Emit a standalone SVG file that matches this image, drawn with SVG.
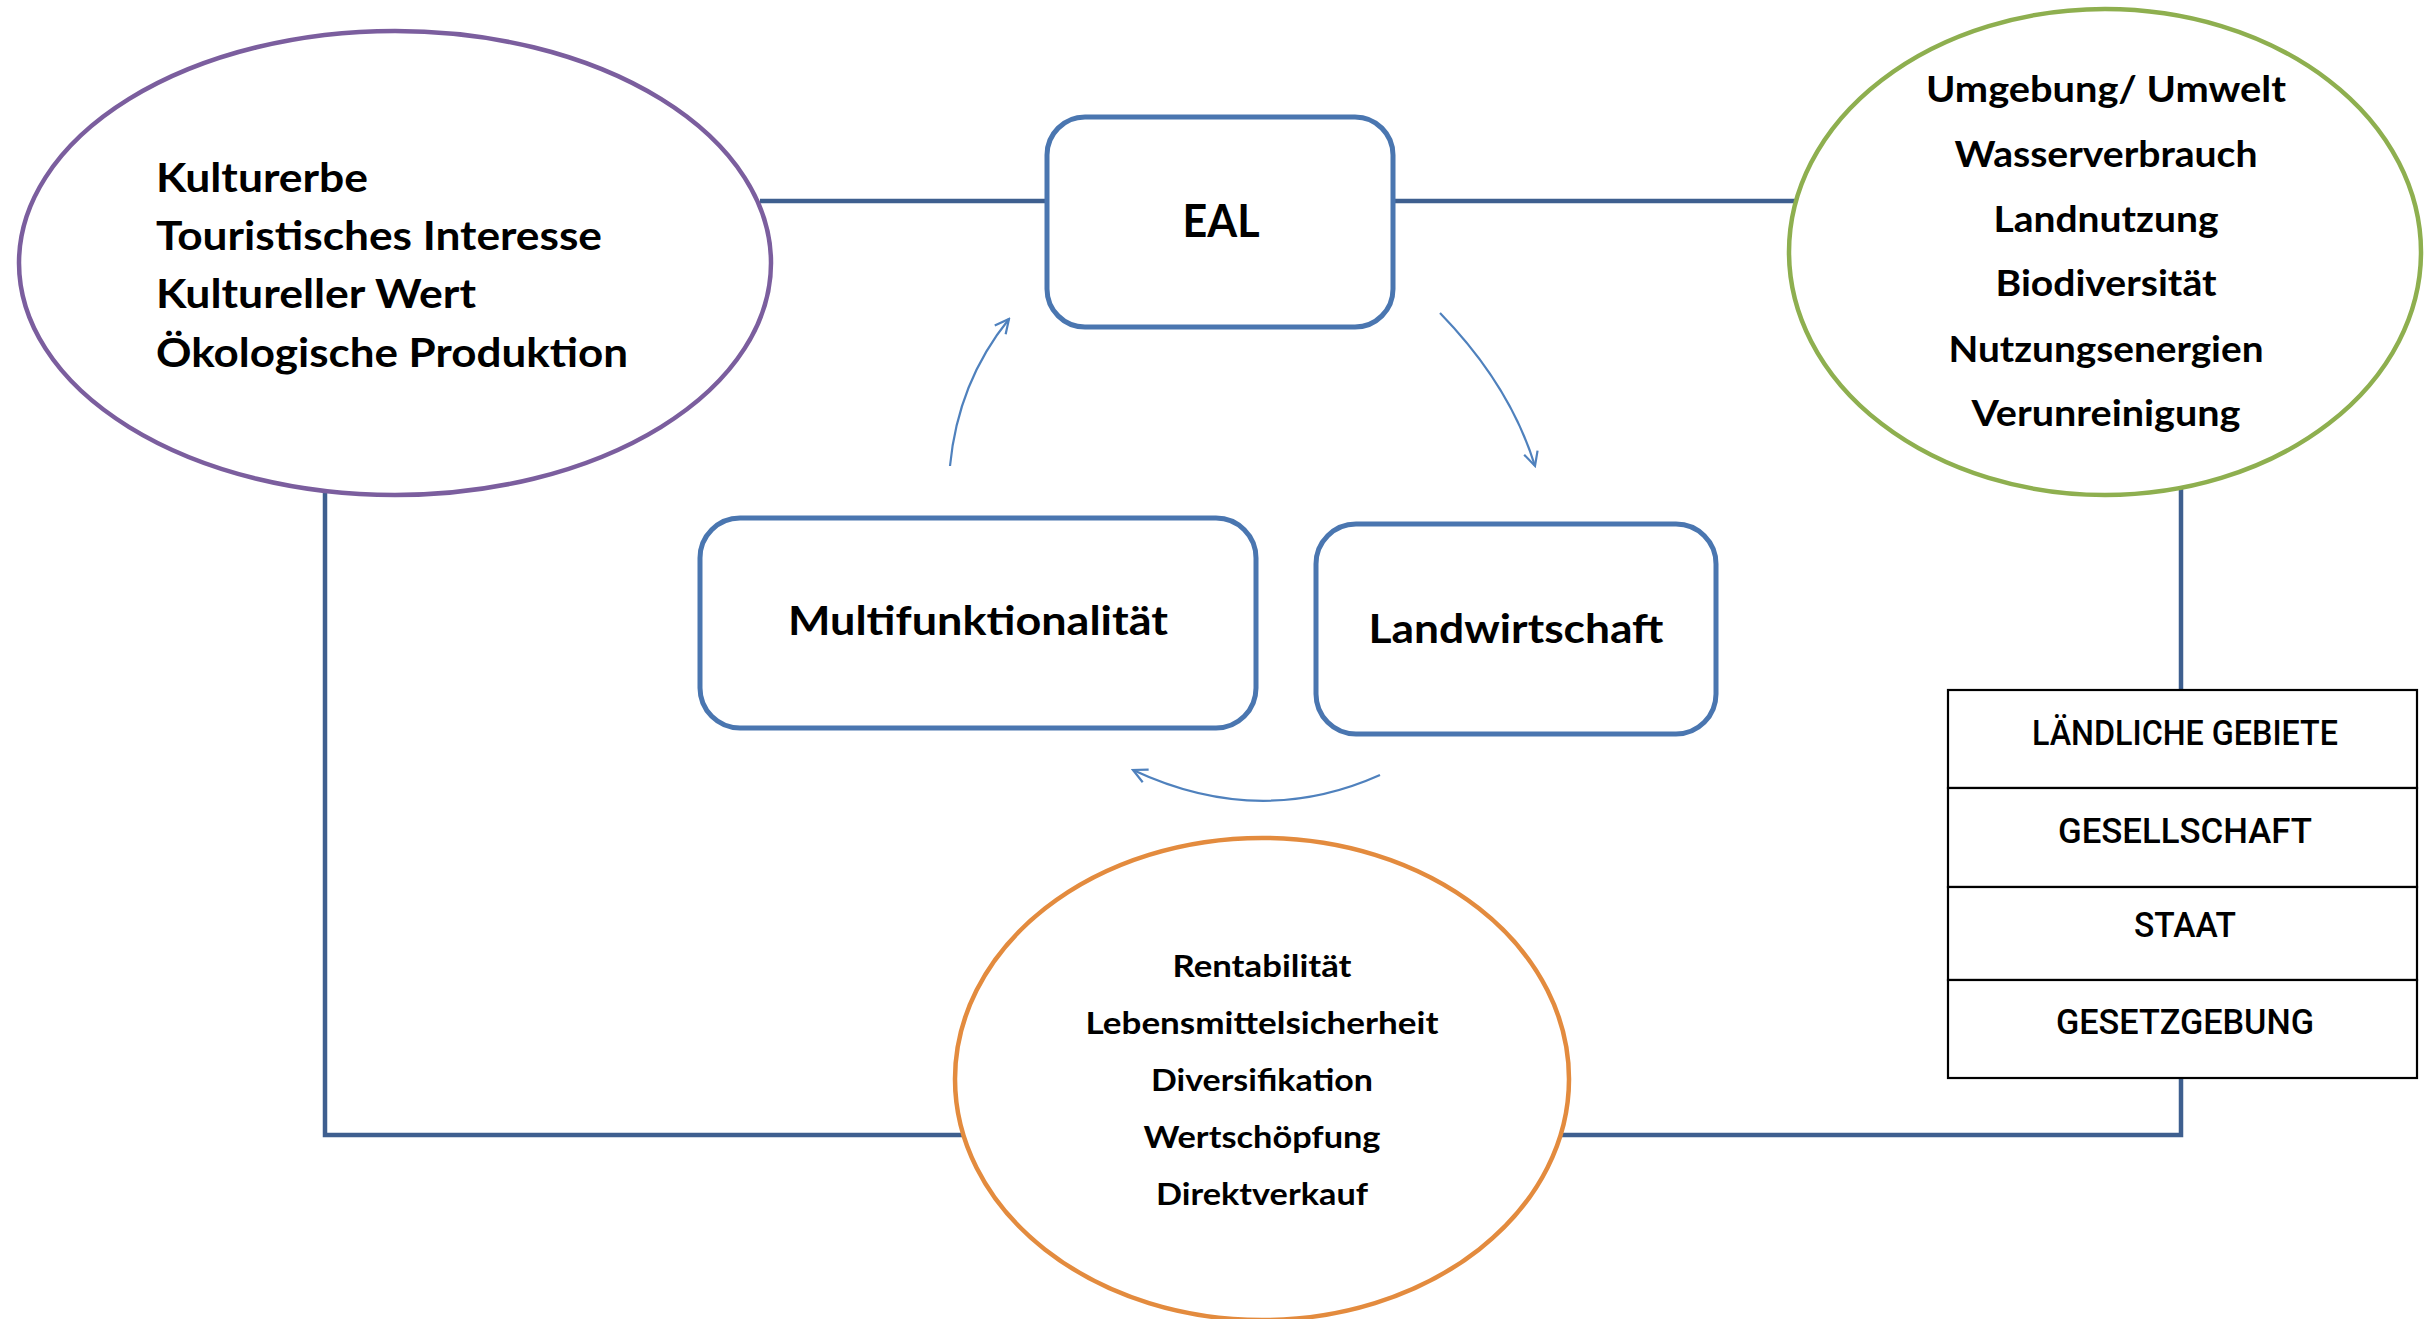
<svg xmlns="http://www.w3.org/2000/svg" width="2429" height="1319" viewBox="0 0 2429 1319">
<style>
.conn{fill:none;stroke:#3E5F8F;stroke-width:4.5}
.flow{fill:none;stroke:#4F81BD;stroke-width:2.2}
.box{fill:#fff;stroke:#4A76B0;stroke-width:5}
.t{font-family:Lato,"Open Sans","Liberation Sans",sans-serif;font-weight:700;fill:#000}
.c{text-anchor:middle}
.tab{fill:#fff;stroke:#000;stroke-width:2.2}
.tt{font-family:Roboto,"DejaVu Sans","Liberation Sans",sans-serif;font-weight:500;font-size:35px;text-anchor:middle;fill:#000}
</style>
<defs>
<marker id="ah" viewBox="0 0 18 18" refX="16" refY="9" markerWidth="18" markerHeight="18" markerUnits="userSpaceOnUse" orient="auto">
<path d="M2,2 L16,9 L2,16" fill="none" stroke="#4F81BD" stroke-width="2.2"/>
</marker>
</defs>
<rect width="2429" height="1319" fill="#fff"/>
<g id="connectors">
<line class="conn" x1="760" y1="201" x2="1050" y2="201"/>
<line class="conn" x1="1390" y1="201" x2="1800" y2="201"/>
<polyline class="conn" points="325,480 325,1135 980,1135"/>
<line class="conn" x1="2181" y1="480" x2="2181" y2="692"/>
<polyline class="conn" points="2181,1076 2181,1135 1550,1135"/>
<path class="flow" d="M950,466 Q958,382 1009,319" marker-end="url(#ah)"/>
<path class="flow" d="M1440,313 Q1510,385 1535,466" marker-end="url(#ah)"/>
<path class="flow" d="M1380,775 Q1259,829 1133,770" marker-end="url(#ah)"/>
</g>
<g id="kultur">
<ellipse cx="395" cy="263" rx="376" ry="232" fill="#fff" stroke="#7B5E9E" stroke-width="4.5"/>
<text class="t" font-size="41" x="156" y="192" textLength="212" lengthAdjust="spacingAndGlyphs">Kulturerbe</text>
<text class="t" font-size="41" x="156" y="250" textLength="446" lengthAdjust="spacingAndGlyphs">Touristisches Interesse</text>
<text class="t" font-size="41" x="156" y="308" textLength="320" lengthAdjust="spacingAndGlyphs">Kultureller Wert</text>
<text class="t" font-size="41" x="156" y="367" textLength="472" lengthAdjust="spacingAndGlyphs">Ökologische Produktion</text>
</g>
<g id="eal">
<rect class="box" x="1047" y="117" width="346" height="210" rx="38"/>
<text class="t c" font-size="46" x="1221" y="237" textLength="77" lengthAdjust="spacingAndGlyphs">EAL</text>
</g>
<g id="umwelt">
<ellipse cx="2105" cy="252" rx="316" ry="243" fill="#fff" stroke="#8EAF4F" stroke-width="4.5"/>
<text class="t c" font-size="36" x="2106" y="102" textLength="360" lengthAdjust="spacingAndGlyphs">Umgebung/ Umwelt</text>
<text class="t c" font-size="36" x="2106" y="167" textLength="303" lengthAdjust="spacingAndGlyphs">Wasserverbrauch</text>
<text class="t c" font-size="36" x="2106" y="232" textLength="225" lengthAdjust="spacingAndGlyphs">Landnutzung</text>
<text class="t c" font-size="36" x="2106" y="296" textLength="221" lengthAdjust="spacingAndGlyphs">Biodiversität</text>
<text class="t c" font-size="36" x="2106" y="362" textLength="315" lengthAdjust="spacingAndGlyphs">Nutzungsenergien</text>
<text class="t c" font-size="36" x="2106" y="426" textLength="269" lengthAdjust="spacingAndGlyphs">Verunreinigung</text>
</g>
<g id="multi">
<rect class="box" x="700" y="518" width="556" height="210" rx="40"/>
<text class="t c" font-size="40" x="978" y="635" textLength="380" lengthAdjust="spacingAndGlyphs">Multifunktionalität</text>
</g>
<g id="landwirtschaft">
<rect class="box" x="1316" y="524" width="400" height="210" rx="40"/>
<text class="t c" font-size="40" x="1516" y="643" textLength="295" lengthAdjust="spacingAndGlyphs">Landwirtschaft</text>
</g>
<g id="wirtschaft">
<ellipse cx="1262" cy="1079" rx="307" ry="241" fill="#fff" stroke="#E38B3E" stroke-width="4.5"/>
<text class="t c" font-size="31" x="1262" y="977" textLength="179" lengthAdjust="spacingAndGlyphs">Rentabilität</text>
<text class="t c" font-size="31" x="1262" y="1034" textLength="353" lengthAdjust="spacingAndGlyphs">Lebensmittelsicherheit</text>
<text class="t c" font-size="31" x="1262" y="1091" textLength="222" lengthAdjust="spacingAndGlyphs">Diversifikation</text>
<text class="t c" font-size="31" x="1262" y="1148" textLength="237" lengthAdjust="spacingAndGlyphs">Wertschöpfung</text>
<text class="t c" font-size="31" x="1262" y="1205" textLength="212" lengthAdjust="spacingAndGlyphs">Direktverkauf</text>
</g>
<g id="tabelle">
<rect class="tab" x="1948" y="690" width="469" height="98"/>
<rect class="tab" x="1948" y="788" width="469" height="99"/>
<rect class="tab" x="1948" y="887" width="469" height="93"/>
<rect class="tab" x="1948" y="980" width="469" height="98"/>
<text class="tt" x="2185" y="745" textLength="306" lengthAdjust="spacingAndGlyphs">LÄNDLICHE GEBIETE</text>
<text class="tt" x="2185" y="843" textLength="254" lengthAdjust="spacingAndGlyphs">GESELLSCHAFT</text>
<text class="tt" x="2185" y="937" textLength="102" lengthAdjust="spacingAndGlyphs">STAAT</text>
<text class="tt" x="2185" y="1034" textLength="258" lengthAdjust="spacingAndGlyphs">GESETZGEBUNG</text>
</g>
</svg>
